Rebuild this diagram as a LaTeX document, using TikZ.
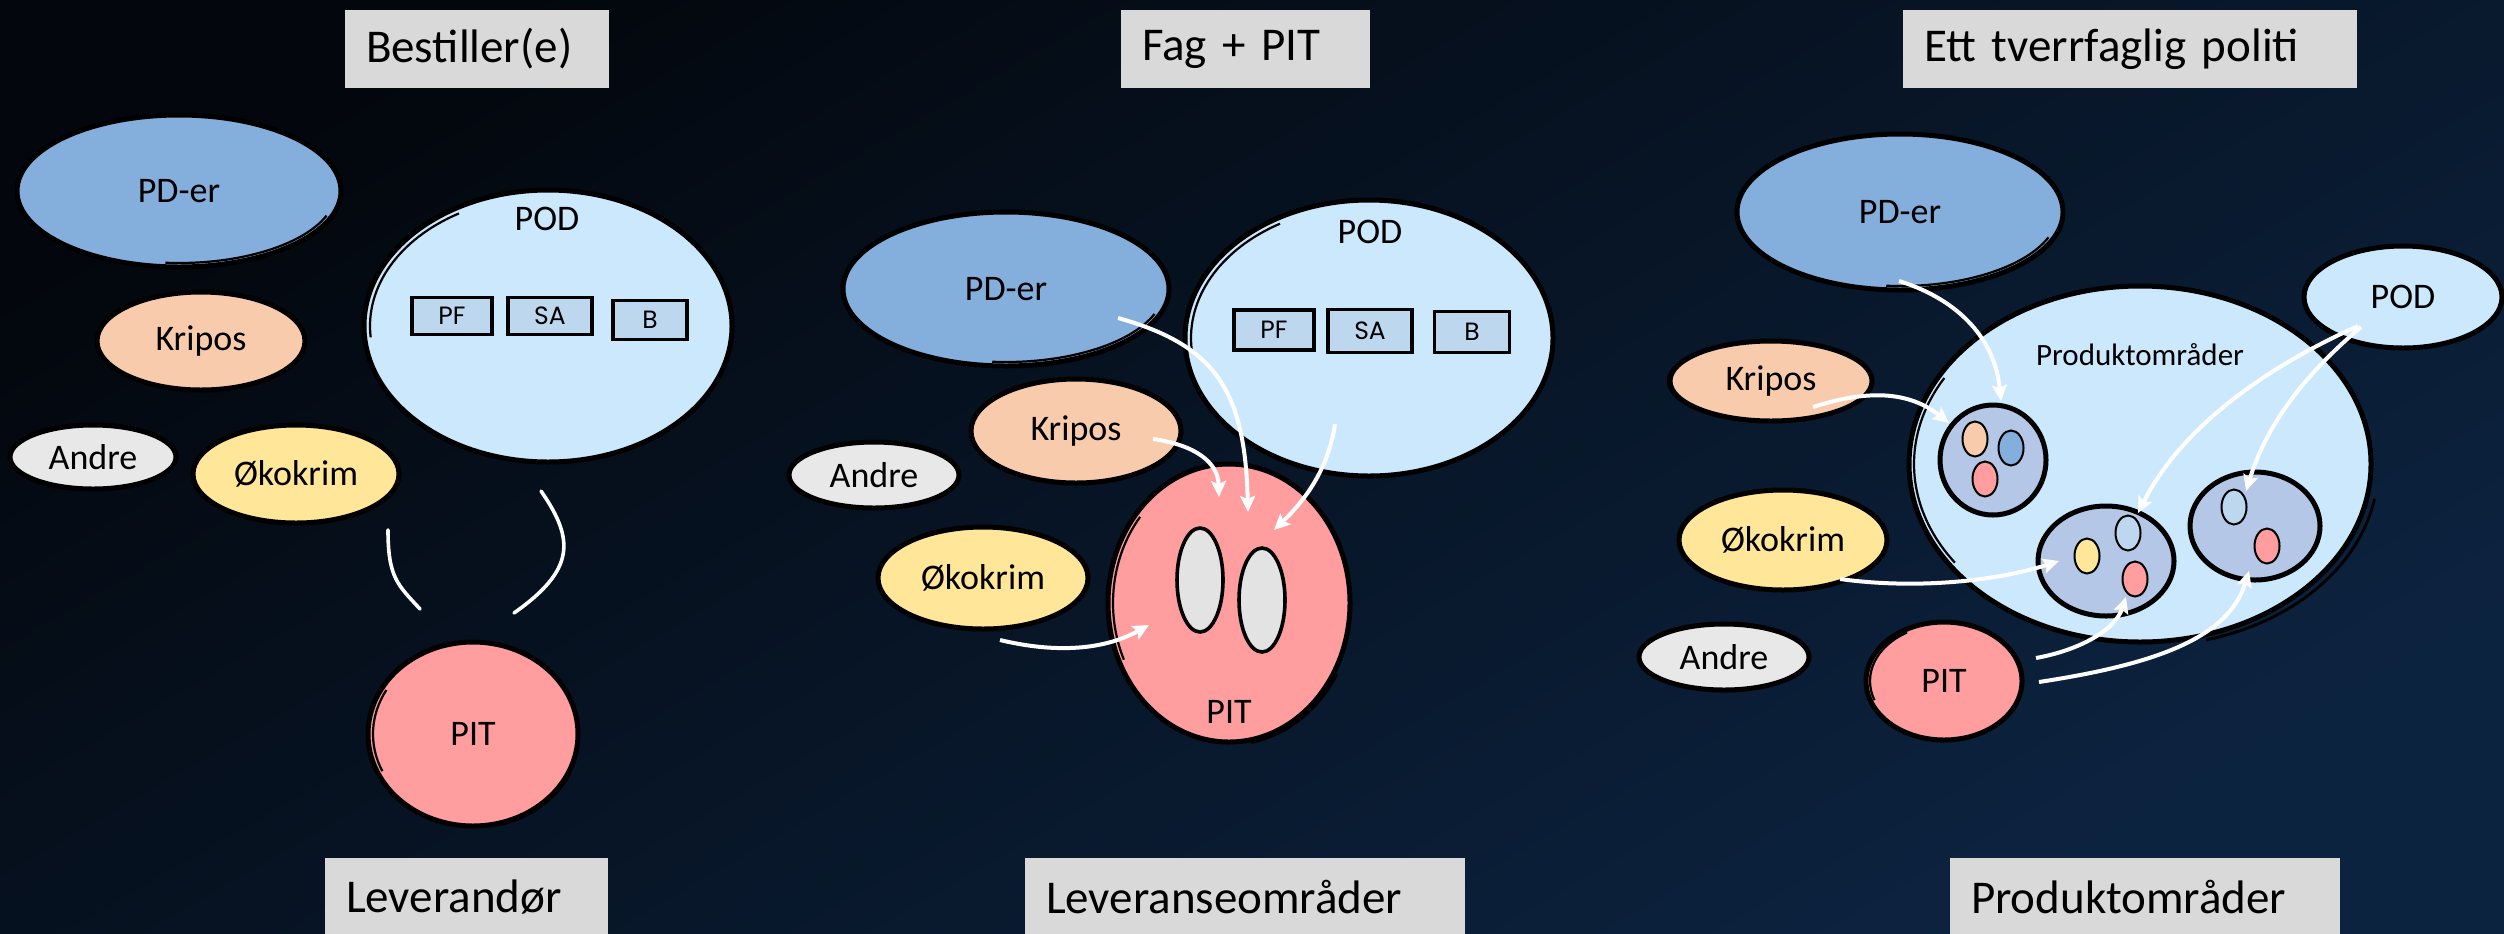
\documentclass[tikz,border=0pt]{standalone}
\usepackage{fontspec}
\setmainfont{Carlito}
\newfontfamily\boxfnt{Poppins}
\usetikzlibrary{shapes.geometric,arrows.meta}
\definecolor{bgA}{HTML}{03070D}
\definecolor{bgB}{HTML}{0C2340}
\definecolor{cPD}{HTML}{84AEDB}
\definecolor{cPOD}{HTML}{CCE8FD}
\definecolor{cKR}{HTML}{F8CBAD}
\definecolor{cAN}{HTML}{E8E8E8}
\definecolor{cOK}{HTML}{FFE699}
\definecolor{cPIT}{HTML}{FF9D9F}
\definecolor{cBOX}{HTML}{BDD7EE}
\definecolor{cGRP}{HTML}{B4C7E7}
\definecolor{cTB}{HTML}{D9D9D9}
\definecolor{cEYE}{HTML}{E3E3E3}
\newcommand\nodefnt{\fontsize{18}{21}\selectfont}
\newcommand\titlefnt{\fontsize{23.5}{27}\selectfont}
\newcommand\smallfnt{\fontsize{15.5}{18}\selectfont}
\newcommand\skarc[5]{\draw[black,line width=1.1pt] (#1.center) ++(#2:#4 and #5) arc[start angle=#2,end angle=#3,x radius=#4,y radius=#5];}
\tikzset{
  ell/.style={ellipse, draw=black, line width=2.5pt, inner sep=0pt, font=\nodefnt, text=black},
  tbox/.style={rectangle, fill=cTB, inner xsep=10.5pt, inner ysep=0pt, minimum height=39pt, align=left, font=\titlefnt, text=black},
  sbox/.style={rectangle, draw=black, line width=1.7pt, fill=cBOX, inner sep=0pt, font=\boxfnt\fontsize{12.5}{14}\selectfont, text=black},
  grp/.style={ellipse, draw=black, line width=2.5pt, fill=cGRP, inner sep=0pt},
  dot/.style={ellipse, draw=black, line width=1pt, inner sep=0pt, minimum width=12.5pt, minimum height=17.5pt},
  eye/.style={ellipse, draw=black, line width=1.8pt, fill=cEYE, inner sep=0pt, minimum width=23pt, minimum height=52pt},
  lbl/.style={inner sep=0pt, text=black},
  arr/.style={draw=white, line width=2pt, -{Stealth[length=8pt,width=7.5pt,inset=1.5pt]}},
  wline/.style={draw=white, line width=1.8pt, line cap=round},
}
\begin{document}
\begin{tikzpicture}[x=0.5pt,y=-0.5pt]
\useasboundingbox (0,0) rectangle (2504,933);
\shade[top color=bgA, bottom color=bgB, shading angle=30] (-20,-20) rectangle (2524,953);

% ---------------- Panel 1 ----------------
\node[tbox, text width=111pt] (t1) at (477,49) {Bestiller(e)};
\node[tbox, text width=120.5pt] (b1) at (466.5,897) {Leverandør};

\node[ell, fill=cPD, minimum width=162pt, minimum height=76pt] (pd1) at (179,191) {PD-er};
\skarc{pd1}{-95}{-20}{78.5pt}{36pt}
\node[ell, fill=cPOD, minimum width=184pt, minimum height=136pt] (pod1) at (548,326) {};
\skarc{pod1}{120}{185}{89pt}{65pt}
\node[lbl, font=\nodefnt] (pod1t) at (547,219) {POD};
\node[sbox, minimum width=40pt, minimum height=18.5pt] (pf1) at (452,316) {PF};
\node[sbox, minimum width=42pt, minimum height=18.5pt] (sa1) at (550,316) {SA};
\node[sbox, minimum width=37pt, minimum height=19.5pt] (bb1) at (650,320) {B};
\node[ell, fill=cKR, minimum width=104pt, minimum height=49pt] (kr1) at (201,341) {Kripos};
\node[ell, fill=cAN, minimum width=83pt, minimum height=32pt] (an1) at (93,457) {Andre};
\node[ell, fill=cOK, minimum width=103pt, minimum height=49pt] (ok1) at (296,474) {Økokrim};
\node[ell, fill=cPIT, minimum width=105pt, minimum height=92pt] (pit1) at (473,734) {PIT};
\skarc{pit1}{150}{205}{50pt}{44pt}
\skarc{pit1}{-75}{-25}{53.5pt}{47pt}

\coordinate (l1a) at (388,530);
\coordinate (l1b) at (420,609);
\coordinate (l2a) at (541,491);
\coordinate (l2b) at (514,613);
\draw[wline] (l1a) .. controls (388,578) and (398,585) .. (l1b);
\draw[wline] (l2a) .. controls (575,540) and (575,570) .. (l2b);

% ---------------- Panel 2 ----------------
\node[tbox, text width=103.5pt] (t2) at (1245.5,49) {Fag + PIT};
\node[tbox, text width=199pt] (b2) at (1245,897) {Leveranseområder};

\node[ell, fill=cPD, minimum width=163pt, minimum height=77pt] (pd2) at (1006,289) {PD-er};
\skarc{pd2}{-95}{-20}{79pt}{36.5pt}
\node[ell, fill=cPOD, minimum width=184pt, minimum height=138pt] (pod2) at (1369,338) {};
\skarc{pod2}{120}{185}{89pt}{66pt}
\node[lbl, font=\nodefnt] (pod2t) at (1370,232) {POD};
\node[sbox, minimum width=40pt, minimum height=20pt] (pf2) at (1274,330) {PF};
\node[sbox, minimum width=42pt, minimum height=21.5pt] (sa2) at (1370,331) {SA};
\node[sbox, minimum width=37.5pt, minimum height=20.5pt] (bb2) at (1472,332) {B};
\node[ell, fill=cKR, minimum width=105pt, minimum height=52pt] (kr2) at (1076,431) {Kripos};
\node[ell, fill=cAN, minimum width=85pt, minimum height=33pt] (an2) at (874,475) {Andre};
\node[ell, fill=cOK, minimum width=105pt, minimum height=51pt] (ok2) at (983,578) {Økokrim};
\node[ell, fill=cPIT, minimum width=121pt, minimum height=139pt] (pit2) at (1229,603) {};
\skarc{pit2}{140}{205}{58pt}{67pt}
\skarc{pit2}{-80}{-30}{62.5pt}{71pt}
\node[lbl, font=\nodefnt] (pit2t) at (1229,712) {PIT};
\node[eye] (eye1) at (1200,580) {};
\node[eye] (eye2) at (1262,600) {};

\coordinate (a1s) at (1118,318);
\coordinate (a1e) at (1248,512);
\coordinate (a2s) at (1153,439);
\coordinate (a2e) at (1219,497);
\coordinate (a3s) at (1335,424);
\coordinate (a3e) at (1274,530);
\coordinate (a4s) at (1000,640);
\coordinate (a4e) at (1149,625);
\draw[arr] (a1s) .. controls (1215,345) and (1245,390) .. (a1e);
\draw[arr] (a2s) .. controls (1195,445) and (1218,462) .. (a2e);
\draw[arr] (a3s) .. controls (1328,470) and (1305,500) .. (a3e);
\draw[arr] (a4s) .. controls (1050,652) and (1100,652) .. (a4e);

% ---------------- Panel 3 ----------------
\node[tbox, text width=206pt] (t3) at (2130,49) {Ett tverrfaglig politi};
\node[tbox, text width=174pt] (b3) at (2145,897) {Produktområder};

\node[ell, fill=cPD, minimum width=163pt, minimum height=78pt] (pd3) at (1900,212) {PD-er};
\skarc{pd3}{-95}{-20}{79pt}{37pt}
\node[ell, fill=cPOD, minimum width=231pt, minimum height=178pt] (prod) at (2140,464) {};
\skarc{prod}{150}{215}{113pt}{86pt}
\draw[black,line width=1.4pt] (prod.center) ++(3pt,-2pt) ++(-75:116pt and 89pt) arc[start angle=-75,end angle=-10,x radius=116pt,y radius=89pt];
\node[lbl, font=\smallfnt] (prodt) at (2140,355) {Produktområder};
\node[ell, fill=cPOD, minimum width=99pt, minimum height=51pt] (pod3) at (2403,297) {POD};
\node[ell, fill=cKR, minimum width=101pt, minimum height=40pt] (kr3) at (1771,381) {Kripos};
\skarc{kr3}{160}{250}{51.5pt}{20.5pt}
\node[ell, fill=cOK, minimum width=104pt, minimum height=50pt] (ok3) at (1783,540) {Økokrim};
\node[ell, fill=cAN, minimum width=85pt, minimum height=33pt] (an3) at (1724,657) {Andre};
\node[ell, fill=cPIT, minimum width=78pt, minimum height=59pt] (pit3) at (1944,681) {PIT};
\skarc{pit3}{120}{200}{37pt}{28pt}

\node[grp, minimum width=53pt, minimum height=55pt] (g1) at (1993,460) {};
\node[dot, fill=cKR] (g1a) at (1975,439) {};
\node[dot, fill=cPD] (g1b) at (2011,448) {};
\node[dot, fill=cPIT] (g1c) at (1985,479) {};
\node[grp, minimum width=68pt, minimum height=55pt] (g2) at (2106,561) {};
\node[dot, fill=cOK] (g2a) at (2087,556) {};
\node[dot, fill=cBOX] (g2b) at (2128,533) {};
\node[dot, fill=cPIT] (g2c) at (2135,579) {};
\node[grp, minimum width=65pt, minimum height=54pt] (g3) at (2255,526) {};
\node[dot, fill=cBOX] (g3a) at (2234,507) {};
\node[dot, fill=cPIT] (g3b) at (2267,546) {};

\coordinate (c1s) at (1899,281);
\coordinate (c1e) at (2001,401);
\coordinate (c2s) at (1813,407);
\coordinate (c2e) at (1949,423);
\coordinate (c3s) at (2358,326);
\coordinate (c3e) at (2138,513);
\coordinate (c4s) at (2361,327);
\coordinate (c4e) at (2246,491);
\coordinate (c5s) at (1840,579);
\coordinate (c5e) at (2059,561);
\coordinate (c6s) at (2036,658);
\coordinate (c6e) at (2126,597);
\coordinate (c7s) at (2039,682);
\coordinate (c7e) at (2249,571);
\draw[arr] (c1s) .. controls (1960,300) and (1995,340) .. (c1e);
\draw[arr] (c2s) .. controls (1860,392) and (1905,388) .. (c2e);
\draw[arr] (c3s) .. controls (2260,370) and (2180,430) .. (c3e);
\draw[arr] (c4s) .. controls (2310,370) and (2268,420) .. (c4e);
\draw[arr] (c5s) .. controls (1920,590) and (2000,580) .. (c5e);
\draw[arr] (c6s) .. controls (2080,650) and (2115,630) .. (c6e);
\draw[arr] (c7s) .. controls (2150,665) and (2228,640) .. (c7e);
\end{tikzpicture}
\end{document}
